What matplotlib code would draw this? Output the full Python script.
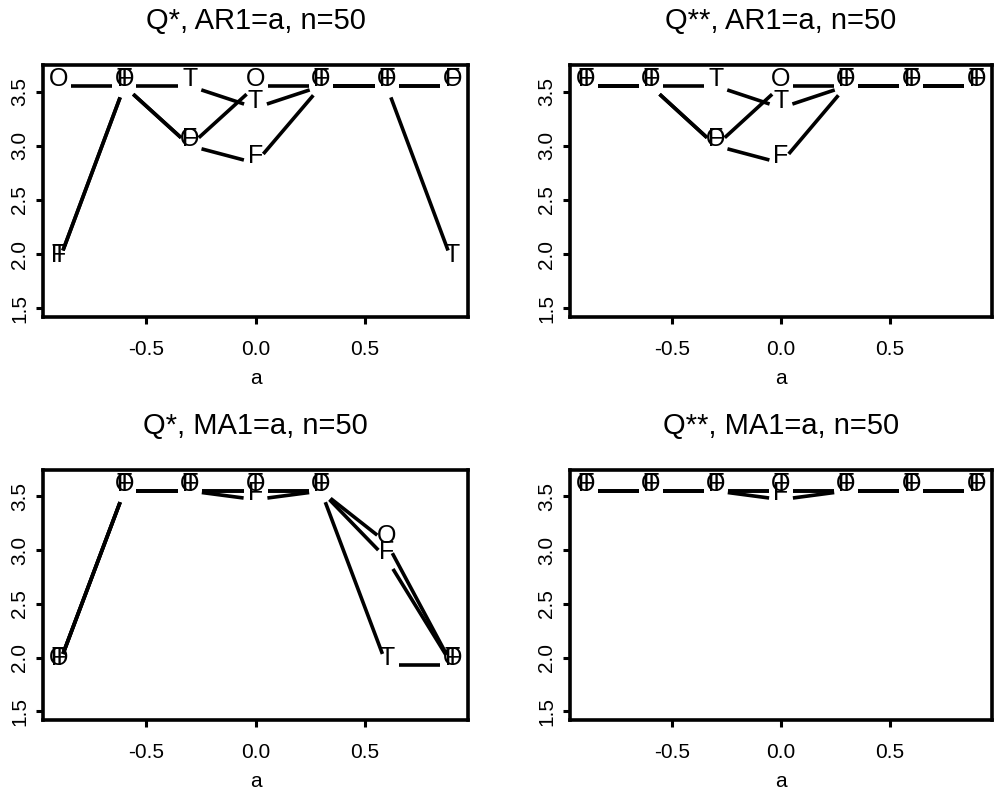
import matplotlib
matplotlib.use("Agg")
import matplotlib.pyplot as plt
import numpy as np

plt.rcParams['font.family'] = ['Liberation Sans', 'DejaVu Sans']

# values of a (x axis)
a_vals = [-0.9, -0.6, -0.3, 0.0, 0.3, 0.6, 0.9]

# AR1, Q*
ar1_q1_O = [3.55, 3.55, 3.00, 3.55, 3.55, 3.55, 3.55]
ar1_q1_T = [1.93, 3.55, 3.55, 3.35, 3.55, 3.55, 1.93]
ar1_q1_F = [1.93, 3.55, 3.00, 2.84, 3.55, 3.55, 3.55]

# AR1, Q**
ar1_q2_O = [3.55, 3.55, 3.00, 3.55, 3.55, 3.55, 3.55]
ar1_q2_T = [3.55, 3.55, 3.55, 3.35, 3.55, 3.55, 3.55]
ar1_q2_F = [3.55, 3.55, 3.00, 2.84, 3.55, 3.55, 3.55]

# MA1, Q*
ma1_q1_O = [1.93, 3.55, 3.55, 3.55, 3.55, 3.07, 1.93]
ma1_q1_T = [1.93, 3.55, 3.55, 3.55, 3.55, 1.93, 1.93]
ma1_q1_F = [1.93, 3.55, 3.55, 3.47, 3.55, 2.92, 1.93]

# MA1, Q**
ma1_q2_O = [3.55, 3.55, 3.55, 3.55, 3.55, 3.55, 3.55]
ma1_q2_T = [3.55, 3.55, 3.55, 3.55, 3.55, 3.55, 3.55]
ma1_q2_F = [3.55, 3.55, 3.55, 3.47, 3.55, 3.55, 3.55]

titles = ["Q*, AR1=a, n=50", "Q**, AR1=a, n=50",
          "Q*, MA1=a, n=50", "Q**, MA1=a, n=50"]
panels = [
    [("O", ar1_q1_O), ("T", ar1_q1_T), ("F", ar1_q1_F)],
    [("O", ar1_q2_O), ("T", ar1_q2_T), ("F", ar1_q2_F)],
    [("O", ma1_q1_O), ("T", ma1_q1_T), ("F", ma1_q1_F)],
    [("O", ma1_q2_O), ("T", ma1_q2_T), ("F", ma1_q2_F)],
]

W, H = 994, 798
fig = plt.figure(figsize=(W / 100, H / 100), dpi=100)

# axes boxes in pixels: left, top, right, bottom
boxes = [(43, 65, 468, 317), (570, 65, 992, 317),
         (43, 470, 468, 720), (570, 470, 992, 720)]

GAP = 12  # px, gap left around each point (type="b" style)


def gapped_segments(ax, xs, ys):
    pts = ax.transData.transform(np.column_stack([xs, ys]))
    inv = ax.transData.inverted()
    for p0, p1 in zip(pts[:-1], pts[1:]):
        d = p1 - p0
        n = np.hypot(*d)
        if n <= 2 * GAP:
            continue
        u = d / n
        seg = inv.transform(np.array([p0 + u * GAP, p1 - u * GAP]))
        ax.plot(seg[:, 0], seg[:, 1], color='black', lw=2.6,
                solid_capstyle='butt')


for i, (box, title, series) in enumerate(zip(boxes, titles, panels)):
    l, t, r, b = box
    ax = fig.add_axes([l / W, 1 - b / H, (r - l) / W, (b - t) / H])
    ax.set_xlim(-0.972, 0.972)
    ax.set_ylim(1.42, 3.745)
    ax.set_xticks([-0.5, 0.0, 0.5])
    ax.set_xticklabels(["-0.5", "0.0", "0.5"])
    ax.set_yticks([1.5, 2.0, 2.5, 3.0, 3.5])
    ax.set_yticklabels(["1.5", "2.0", "2.5", "3.0", "3.5"], rotation=90,
                       va='center')
    ax.tick_params(labelsize=15, length=5, width=2.2)
    ax.tick_params(axis='x', pad=11.5)
    ax.tick_params(axis='y', pad=5)
    for sp in ax.spines.values():
        sp.set_linewidth(2.6)
    ax.set_xlabel("a", fontsize=15, labelpad=7)
    ax.set_title(title, fontsize=21, pad=26)
    for letter, ys in series:
        gapped_segments(ax, a_vals, ys)
    for letter, ys in series:
        for x, y in zip(a_vals, ys):
            ax.text(x, y, letter, fontsize=18, ha='center', va='baseline')

fig.savefig("out.png", dpi=100)
